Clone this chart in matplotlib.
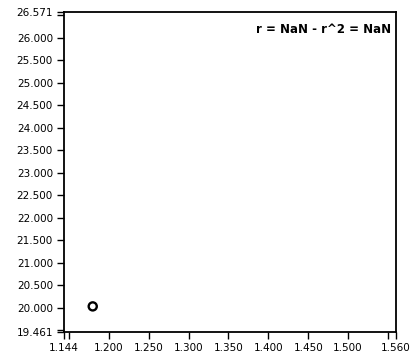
import matplotlib
matplotlib.use("Agg")
import matplotlib.pyplot as plt

x_vals = [1.180]
y_vals = [20.03]
x_ticks = [1.144, 1.150, 1.200, 1.250, 1.300, 1.350, 1.400, 1.450, 1.500, 1.550, 1.560]
x_labels = ["1.144", "", "1.200", "1.250", "1.300", "1.350", "1.400", "1.450", "1.500", "", "1.560"]
y_ticks = [19.461, 19.5, 20.0, 20.5, 21.0, 21.5, 22.0, 22.5, 23.0, 23.5, 24.0, 24.5, 25.0, 25.5, 26.0, 26.5, 26.571]
y_labels = ["19.461", "", "20.000", "20.500", "21.000", "21.500", "22.000", "22.500", "23.000",
            "23.500", "24.000", "24.500", "25.000", "25.500", "26.000", "", "26.571"]
annotation = "r = NaN - r^2 = NaN"

plt.rcParams['font.family'] = ['DejaVu Sans']
fig = plt.figure(figsize=(4.2, 3.6), dpi=100)
ax = fig.add_axes([64/420, 1 - 332/360, 332/420, 320/360])
ax.scatter(x_vals, y_vals, s=34, facecolors='none', edgecolors='black', linewidths=1.7, zorder=3)
ax.set_xlim(1.144, 1.560)
ax.set_ylim(19.461, 26.571)
ax.set_xticks(x_ticks)
ax.set_xticklabels(x_labels)
ax.set_yticks(y_ticks)
ax.set_yticklabels(y_labels)
ax.tick_params(direction='out', length=5, width=1, labelsize=7.5, pad=3, colors='black')
for s in ax.spines.values():
    s.set_linewidth(1.3)
ax.text(0.985, 0.965, annotation, transform=ax.transAxes, ha='right', va='top',
        fontsize=8.5, fontweight='bold')
fig.savefig("out.png", dpi=100)
